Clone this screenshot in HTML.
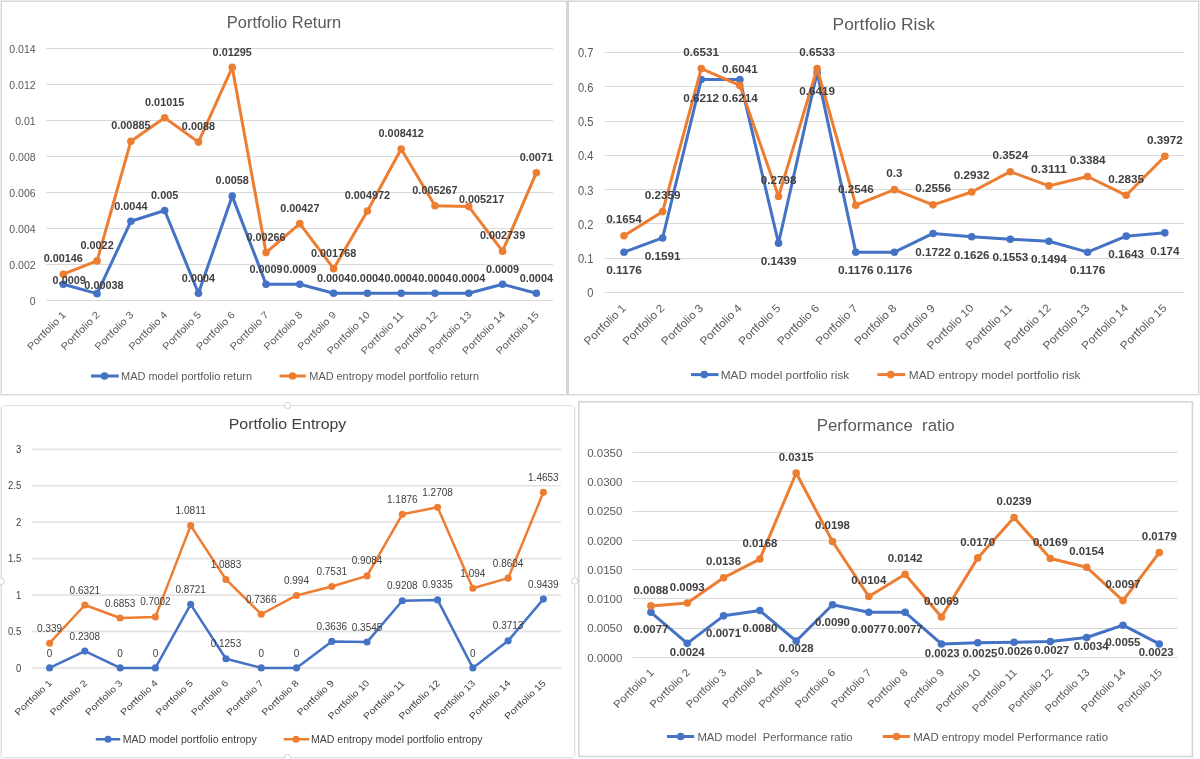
<!DOCTYPE html><html><head><meta charset="utf-8"><style>html,body{margin:0;padding:0;background:#fff;width:1200px;height:759px;overflow:hidden}svg{display:block;will-change:transform}text{font-family:"Liberation Sans",sans-serif}</style></head><body>
<svg width="1200" height="759" viewBox="0 0 1200 759">
<rect width="1200" height="759" fill="#FFFFFF"/>
<rect x="0" y="0" width="1200" height="1" fill="#E8E8E8"/>
<rect x="0" y="0" width="1" height="395" fill="#EDEDED"/>
<rect x="1199" y="0" width="1" height="395" fill="#EFEFEF"/>
<rect x="1" y="1" width="1198" height="1" fill="#D9D9D9"/>
<rect x="1" y="1" width="1" height="394" fill="#D9D9D9"/>
<rect x="566" y="1" width="3" height="394" fill="#D6D6D6"/>
<rect x="1" y="394" width="1198" height="1" fill="#D6D6D6"/>
<rect x="0" y="395" width="1199" height="1" fill="#F2F2F2"/>
<rect x="1198" y="1" width="1" height="394" fill="#D6D6D6"/>
<rect x="0" y="406" width="1" height="353" fill="#EFEFEF"/>
<rect x="0" y="758" width="575" height="1" fill="#F2F2F2"/>
<path d="M1.5 756.5 V408 L4 405.5 H572 L574.5 408 V755 L572.5 757.5 H3.5 Z" fill="none" stroke="#E0E0E0" stroke-width="1"/>
<rect x="575" y="408" width="1" height="348" fill="#F4F4F4"/>
<circle cx="287.5" cy="405.5" r="3.2" fill="#FFFFFF" stroke="#D2D2D2" stroke-width="1"/>
<circle cx="1" cy="581.3" r="3.2" fill="#FFFFFF" stroke="#D2D2D2" stroke-width="1"/>
<circle cx="574.5" cy="581" r="3.2" fill="#FFFFFF" stroke="#D2D2D2" stroke-width="1"/>
<circle cx="287.5" cy="757.5" r="3.2" fill="#FFFFFF" stroke="#D2D2D2" stroke-width="1"/>
<rect x="578.8" y="401.8" width="613.6" height="354.7" fill="none" stroke="#D4D4D4" stroke-width="1.5"/>
<line x1="46.41" y1="300.5" x2="553.25" y2="300.5" stroke="#D9D9D9" stroke-width="1"/>
<text x="35.6" y="305.1" font-size="10.5" fill="#595959" text-anchor="end" font-weight="normal">0</text>
<line x1="46.41" y1="264.5" x2="553.25" y2="264.5" stroke="#D9D9D9" stroke-width="1"/>
<text x="35.6" y="269.1" font-size="10.5" fill="#595959" text-anchor="end" font-weight="normal">0.002</text>
<line x1="46.41" y1="228.5" x2="553.25" y2="228.5" stroke="#D9D9D9" stroke-width="1"/>
<text x="35.6" y="233.1" font-size="10.5" fill="#595959" text-anchor="end" font-weight="normal">0.004</text>
<line x1="46.41" y1="192.5" x2="553.25" y2="192.5" stroke="#D9D9D9" stroke-width="1"/>
<text x="35.6" y="197.1" font-size="10.5" fill="#595959" text-anchor="end" font-weight="normal">0.006</text>
<line x1="46.41" y1="156.5" x2="553.25" y2="156.5" stroke="#D9D9D9" stroke-width="1"/>
<text x="35.6" y="161.1" font-size="10.5" fill="#595959" text-anchor="end" font-weight="normal">0.008</text>
<line x1="46.41" y1="120.5" x2="553.25" y2="120.5" stroke="#D9D9D9" stroke-width="1"/>
<text x="35.6" y="125.1" font-size="10.5" fill="#595959" text-anchor="end" font-weight="normal">0.01</text>
<line x1="46.41" y1="84.5" x2="553.25" y2="84.5" stroke="#D9D9D9" stroke-width="1"/>
<text x="35.6" y="89.1" font-size="10.5" fill="#595959" text-anchor="end" font-weight="normal">0.012</text>
<line x1="46.41" y1="48.5" x2="553.25" y2="48.5" stroke="#D9D9D9" stroke-width="1"/>
<text x="35.6" y="53.1" font-size="10.5" fill="#595959" text-anchor="end" font-weight="normal">0.014</text>
<text transform="translate(66.6 315.5) scale(1 1) rotate(-45)" x="0" y="0" font-size="10" fill="#595959" text-anchor="end" textLength="50" lengthAdjust="spacingAndGlyphs">Portfolio 1</text>
<text transform="translate(100.39 315.5) scale(1 1) rotate(-45)" x="0" y="0" font-size="10" fill="#595959" text-anchor="end" textLength="50" lengthAdjust="spacingAndGlyphs">Portfolio 2</text>
<text transform="translate(134.18 315.5) scale(1 1) rotate(-45)" x="0" y="0" font-size="10" fill="#595959" text-anchor="end" textLength="50" lengthAdjust="spacingAndGlyphs">Portfolio 3</text>
<text transform="translate(167.97 315.5) scale(1 1) rotate(-45)" x="0" y="0" font-size="10" fill="#595959" text-anchor="end" textLength="50" lengthAdjust="spacingAndGlyphs">Portfolio 4</text>
<text transform="translate(201.76 315.5) scale(1 1) rotate(-45)" x="0" y="0" font-size="10" fill="#595959" text-anchor="end" textLength="50" lengthAdjust="spacingAndGlyphs">Portfolio 5</text>
<text transform="translate(235.55 315.5) scale(1 1) rotate(-45)" x="0" y="0" font-size="10" fill="#595959" text-anchor="end" textLength="50" lengthAdjust="spacingAndGlyphs">Portfolio 6</text>
<text transform="translate(269.34 315.5) scale(1 1) rotate(-45)" x="0" y="0" font-size="10" fill="#595959" text-anchor="end" textLength="50" lengthAdjust="spacingAndGlyphs">Portfolio 7</text>
<text transform="translate(303.13 315.5) scale(1 1) rotate(-45)" x="0" y="0" font-size="10" fill="#595959" text-anchor="end" textLength="50" lengthAdjust="spacingAndGlyphs">Portfolio 8</text>
<text transform="translate(336.92 315.5) scale(1 1) rotate(-45)" x="0" y="0" font-size="10" fill="#595959" text-anchor="end" textLength="50" lengthAdjust="spacingAndGlyphs">Portfolio 9</text>
<text transform="translate(370.71 315.5) scale(1 1) rotate(-45)" x="0" y="0" font-size="10" fill="#595959" text-anchor="end" textLength="56" lengthAdjust="spacingAndGlyphs">Portfolio 10</text>
<text transform="translate(404.5 315.5) scale(1 1) rotate(-45)" x="0" y="0" font-size="10" fill="#595959" text-anchor="end" textLength="56" lengthAdjust="spacingAndGlyphs">Portfolio 11</text>
<text transform="translate(438.29 315.5) scale(1 1) rotate(-45)" x="0" y="0" font-size="10" fill="#595959" text-anchor="end" textLength="56" lengthAdjust="spacingAndGlyphs">Portfolio 12</text>
<text transform="translate(472.08 315.5) scale(1 1) rotate(-45)" x="0" y="0" font-size="10" fill="#595959" text-anchor="end" textLength="56" lengthAdjust="spacingAndGlyphs">Portfolio 13</text>
<text transform="translate(505.87 315.5) scale(1 1) rotate(-45)" x="0" y="0" font-size="10" fill="#595959" text-anchor="end" textLength="56" lengthAdjust="spacingAndGlyphs">Portfolio 14</text>
<text transform="translate(539.66 315.5) scale(1 1) rotate(-45)" x="0" y="0" font-size="10" fill="#595959" text-anchor="end" textLength="56" lengthAdjust="spacingAndGlyphs">Portfolio 15</text>
<polyline points="63.3,284.3 97.09,293.66 130.88,221.3 164.67,210.5 198.46,293.3 232.25,196.1 266.04,284.3 299.83,284.3 333.62,293.3 367.41,293.3 401.2,293.3 434.99,293.3 468.78,293.3 502.57,284.3 536.36,293.3" fill="none" stroke="#4472C4" stroke-width="3" stroke-linejoin="round" stroke-linecap="round"/>
<circle cx="63.3" cy="284.3" r="3.8" fill="#4472C4"/>
<circle cx="97.09" cy="293.66" r="3.8" fill="#4472C4"/>
<circle cx="130.88" cy="221.3" r="3.8" fill="#4472C4"/>
<circle cx="164.67" cy="210.5" r="3.8" fill="#4472C4"/>
<circle cx="198.46" cy="293.3" r="3.8" fill="#4472C4"/>
<circle cx="232.25" cy="196.1" r="3.8" fill="#4472C4"/>
<circle cx="266.04" cy="284.3" r="3.8" fill="#4472C4"/>
<circle cx="299.83" cy="284.3" r="3.8" fill="#4472C4"/>
<circle cx="333.62" cy="293.3" r="3.8" fill="#4472C4"/>
<circle cx="367.41" cy="293.3" r="3.8" fill="#4472C4"/>
<circle cx="401.2" cy="293.3" r="3.8" fill="#4472C4"/>
<circle cx="434.99" cy="293.3" r="3.8" fill="#4472C4"/>
<circle cx="468.78" cy="293.3" r="3.8" fill="#4472C4"/>
<circle cx="502.57" cy="284.3" r="3.8" fill="#4472C4"/>
<circle cx="536.36" cy="293.3" r="3.8" fill="#4472C4"/>
<polyline points="63.3,274.22 97.09,260.9 130.88,141.2 164.67,117.8 198.46,142.1 232.25,67.4 266.04,252.62 299.83,223.64 333.62,268.68 367.41,211 401.2,149.08 434.99,205.69 468.78,206.59 502.57,251.2 536.36,172.7" fill="none" stroke="#ED7D31" stroke-width="3" stroke-linejoin="round" stroke-linecap="round"/>
<circle cx="63.3" cy="274.22" r="3.8" fill="#ED7D31"/>
<circle cx="97.09" cy="260.9" r="3.8" fill="#ED7D31"/>
<circle cx="130.88" cy="141.2" r="3.8" fill="#ED7D31"/>
<circle cx="164.67" cy="117.8" r="3.8" fill="#ED7D31"/>
<circle cx="198.46" cy="142.1" r="3.8" fill="#ED7D31"/>
<circle cx="232.25" cy="67.4" r="3.8" fill="#ED7D31"/>
<circle cx="266.04" cy="252.62" r="3.8" fill="#ED7D31"/>
<circle cx="299.83" cy="223.64" r="3.8" fill="#ED7D31"/>
<circle cx="333.62" cy="268.68" r="3.8" fill="#ED7D31"/>
<circle cx="367.41" cy="211" r="3.8" fill="#ED7D31"/>
<circle cx="401.2" cy="149.08" r="3.8" fill="#ED7D31"/>
<circle cx="434.99" cy="205.69" r="3.8" fill="#ED7D31"/>
<circle cx="468.78" cy="206.59" r="3.8" fill="#ED7D31"/>
<circle cx="502.57" cy="251.2" r="3.8" fill="#ED7D31"/>
<circle cx="536.36" cy="172.7" r="3.8" fill="#ED7D31"/>
<text x="69.2" y="283.5" font-size="10.2" fill="#404040" text-anchor="middle" font-weight="bold" textLength="33.22" lengthAdjust="spacingAndGlyphs">0.0009</text>
<text x="103.99" y="288.66" font-size="10.2" fill="#404040" text-anchor="middle" font-weight="bold" textLength="39.26" lengthAdjust="spacingAndGlyphs">0.00038</text>
<text x="130.88" y="209.5" font-size="10.2" fill="#404040" text-anchor="middle" font-weight="bold" textLength="33.22" lengthAdjust="spacingAndGlyphs">0.0044</text>
<text x="164.67" y="198.7" font-size="10.2" fill="#404040" text-anchor="middle" font-weight="bold" textLength="27.18" lengthAdjust="spacingAndGlyphs">0.005</text>
<text x="198.46" y="281.5" font-size="10.2" fill="#404040" text-anchor="middle" font-weight="bold" textLength="33.22" lengthAdjust="spacingAndGlyphs">0.0004</text>
<text x="232.25" y="184.3" font-size="10.2" fill="#404040" text-anchor="middle" font-weight="bold" textLength="33.22" lengthAdjust="spacingAndGlyphs">0.0058</text>
<text x="266.04" y="272.5" font-size="10.2" fill="#404040" text-anchor="middle" font-weight="bold" textLength="33.22" lengthAdjust="spacingAndGlyphs">0.0009</text>
<text x="299.83" y="272.5" font-size="10.2" fill="#404040" text-anchor="middle" font-weight="bold" textLength="33.22" lengthAdjust="spacingAndGlyphs">0.0009</text>
<text x="333.62" y="281.5" font-size="10.2" fill="#404040" text-anchor="middle" font-weight="bold" textLength="33.22" lengthAdjust="spacingAndGlyphs">0.0004</text>
<text x="367.41" y="281.5" font-size="10.2" fill="#404040" text-anchor="middle" font-weight="bold" textLength="33.22" lengthAdjust="spacingAndGlyphs">0.0004</text>
<text x="401.2" y="281.5" font-size="10.2" fill="#404040" text-anchor="middle" font-weight="bold" textLength="33.22" lengthAdjust="spacingAndGlyphs">0.0004</text>
<text x="434.99" y="281.5" font-size="10.2" fill="#404040" text-anchor="middle" font-weight="bold" textLength="33.22" lengthAdjust="spacingAndGlyphs">0.0004</text>
<text x="468.78" y="281.5" font-size="10.2" fill="#404040" text-anchor="middle" font-weight="bold" textLength="33.22" lengthAdjust="spacingAndGlyphs">0.0004</text>
<text x="502.57" y="272.5" font-size="10.2" fill="#404040" text-anchor="middle" font-weight="bold" textLength="33.22" lengthAdjust="spacingAndGlyphs">0.0009</text>
<text x="536.36" y="281.5" font-size="10.2" fill="#404040" text-anchor="middle" font-weight="bold" textLength="33.22" lengthAdjust="spacingAndGlyphs">0.0004</text>
<text x="63.3" y="262.42" font-size="10.2" fill="#404040" text-anchor="middle" font-weight="bold" textLength="39.26" lengthAdjust="spacingAndGlyphs">0.00146</text>
<text x="97.09" y="249.1" font-size="10.2" fill="#404040" text-anchor="middle" font-weight="bold" textLength="33.22" lengthAdjust="spacingAndGlyphs">0.0022</text>
<text x="130.88" y="129.4" font-size="10.2" fill="#404040" text-anchor="middle" font-weight="bold" textLength="39.26" lengthAdjust="spacingAndGlyphs">0.00885</text>
<text x="164.67" y="106" font-size="10.2" fill="#404040" text-anchor="middle" font-weight="bold" textLength="39.26" lengthAdjust="spacingAndGlyphs">0.01015</text>
<text x="198.46" y="130.3" font-size="10.2" fill="#404040" text-anchor="middle" font-weight="bold" textLength="33.22" lengthAdjust="spacingAndGlyphs">0.0088</text>
<text x="232.25" y="55.6" font-size="10.2" fill="#404040" text-anchor="middle" font-weight="bold" textLength="39.26" lengthAdjust="spacingAndGlyphs">0.01295</text>
<text x="266.04" y="240.82" font-size="10.2" fill="#404040" text-anchor="middle" font-weight="bold" textLength="39.26" lengthAdjust="spacingAndGlyphs">0.00266</text>
<text x="299.83" y="211.84" font-size="10.2" fill="#404040" text-anchor="middle" font-weight="bold" textLength="39.26" lengthAdjust="spacingAndGlyphs">0.00427</text>
<text x="333.62" y="256.88" font-size="10.2" fill="#404040" text-anchor="middle" font-weight="bold" textLength="45.3" lengthAdjust="spacingAndGlyphs">0.001768</text>
<text x="367.41" y="199.2" font-size="10.2" fill="#404040" text-anchor="middle" font-weight="bold" textLength="45.3" lengthAdjust="spacingAndGlyphs">0.004972</text>
<text x="401.2" y="137.28" font-size="10.2" fill="#404040" text-anchor="middle" font-weight="bold" textLength="45.3" lengthAdjust="spacingAndGlyphs">0.008412</text>
<text x="434.99" y="193.89" font-size="10.2" fill="#404040" text-anchor="middle" font-weight="bold" textLength="45.3" lengthAdjust="spacingAndGlyphs">0.005267</text>
<text x="481.58" y="202.59" font-size="10.2" fill="#404040" text-anchor="middle" font-weight="bold" textLength="45.3" lengthAdjust="spacingAndGlyphs">0.005217</text>
<text x="502.57" y="239.4" font-size="10.2" fill="#404040" text-anchor="middle" font-weight="bold" textLength="45.3" lengthAdjust="spacingAndGlyphs">0.002739</text>
<text x="536.36" y="160.9" font-size="10.2" fill="#404040" text-anchor="middle" font-weight="bold" textLength="33.22" lengthAdjust="spacingAndGlyphs">0.0071</text>
<text x="284" y="28.1" font-size="16" fill="#595959" text-anchor="middle" font-weight="normal" textLength="114.4" lengthAdjust="spacingAndGlyphs">Portfolio Return</text>
<line x1="91" y1="376" x2="118.7" y2="376" stroke="#4472C4" stroke-width="3"/>
<circle cx="104.5" cy="376" r="3.8" fill="#4472C4"/>
<text x="121" y="380.3" font-size="11" fill="#595959" text-anchor="start" font-weight="normal" textLength="131" lengthAdjust="spacingAndGlyphs">MAD model portfolio return</text>
<line x1="279.5" y1="376" x2="305.8" y2="376" stroke="#ED7D31" stroke-width="3"/>
<circle cx="292.6" cy="376" r="3.8" fill="#ED7D31"/>
<text x="309.3" y="380.3" font-size="11" fill="#595959" text-anchor="start" font-weight="normal" textLength="169.7" lengthAdjust="spacingAndGlyphs">MAD entropy model portfolio return</text>
<line x1="604.68" y1="292.5" x2="1184.13" y2="292.5" stroke="#D9D9D9" stroke-width="1"/>
<text x="593.4" y="297.4" font-size="12" fill="#595959" text-anchor="end" font-weight="normal" textLength="6.2" lengthAdjust="spacingAndGlyphs">0</text>
<line x1="604.68" y1="258.5" x2="1184.13" y2="258.5" stroke="#D9D9D9" stroke-width="1"/>
<text x="593.4" y="263.11" font-size="12" fill="#595959" text-anchor="end" font-weight="normal" textLength="15.5" lengthAdjust="spacingAndGlyphs">0.1</text>
<line x1="604.68" y1="223.5" x2="1184.13" y2="223.5" stroke="#D9D9D9" stroke-width="1"/>
<text x="593.4" y="228.83" font-size="12" fill="#595959" text-anchor="end" font-weight="normal" textLength="15.5" lengthAdjust="spacingAndGlyphs">0.2</text>
<line x1="604.68" y1="189.5" x2="1184.13" y2="189.5" stroke="#D9D9D9" stroke-width="1"/>
<text x="593.4" y="194.54" font-size="12" fill="#595959" text-anchor="end" font-weight="normal" textLength="15.5" lengthAdjust="spacingAndGlyphs">0.3</text>
<line x1="604.68" y1="155.5" x2="1184.13" y2="155.5" stroke="#D9D9D9" stroke-width="1"/>
<text x="593.4" y="160.26" font-size="12" fill="#595959" text-anchor="end" font-weight="normal" textLength="15.5" lengthAdjust="spacingAndGlyphs">0.4</text>
<line x1="604.68" y1="121.5" x2="1184.13" y2="121.5" stroke="#D9D9D9" stroke-width="1"/>
<text x="593.4" y="125.97" font-size="12" fill="#595959" text-anchor="end" font-weight="normal" textLength="15.5" lengthAdjust="spacingAndGlyphs">0.5</text>
<line x1="604.68" y1="86.5" x2="1184.13" y2="86.5" stroke="#D9D9D9" stroke-width="1"/>
<text x="593.4" y="91.69" font-size="12" fill="#595959" text-anchor="end" font-weight="normal" textLength="15.5" lengthAdjust="spacingAndGlyphs">0.6</text>
<line x1="604.68" y1="52.5" x2="1184.13" y2="52.5" stroke="#D9D9D9" stroke-width="1"/>
<text x="593.4" y="57.4" font-size="12" fill="#595959" text-anchor="end" font-weight="normal" textLength="15.5" lengthAdjust="spacingAndGlyphs">0.7</text>
<text transform="translate(626.7 308.8) scale(1.03 1) rotate(-45)" x="0" y="0" font-size="11" fill="#595959" text-anchor="end" textLength="52.43" lengthAdjust="spacingAndGlyphs">Portfolio 1</text>
<text transform="translate(665.33 308.8) scale(1.03 1) rotate(-45)" x="0" y="0" font-size="11" fill="#595959" text-anchor="end" textLength="52.43" lengthAdjust="spacingAndGlyphs">Portfolio 2</text>
<text transform="translate(703.96 308.8) scale(1.03 1) rotate(-45)" x="0" y="0" font-size="11" fill="#595959" text-anchor="end" textLength="52.43" lengthAdjust="spacingAndGlyphs">Portfolio 3</text>
<text transform="translate(742.59 308.8) scale(1.03 1) rotate(-45)" x="0" y="0" font-size="11" fill="#595959" text-anchor="end" textLength="52.43" lengthAdjust="spacingAndGlyphs">Portfolio 4</text>
<text transform="translate(781.22 308.8) scale(1.03 1) rotate(-45)" x="0" y="0" font-size="11" fill="#595959" text-anchor="end" textLength="52.43" lengthAdjust="spacingAndGlyphs">Portfolio 5</text>
<text transform="translate(819.85 308.8) scale(1.03 1) rotate(-45)" x="0" y="0" font-size="11" fill="#595959" text-anchor="end" textLength="52.43" lengthAdjust="spacingAndGlyphs">Portfolio 6</text>
<text transform="translate(858.48 308.8) scale(1.03 1) rotate(-45)" x="0" y="0" font-size="11" fill="#595959" text-anchor="end" textLength="52.43" lengthAdjust="spacingAndGlyphs">Portfolio 7</text>
<text transform="translate(897.11 308.8) scale(1.03 1) rotate(-45)" x="0" y="0" font-size="11" fill="#595959" text-anchor="end" textLength="52.43" lengthAdjust="spacingAndGlyphs">Portfolio 8</text>
<text transform="translate(935.74 308.8) scale(1.03 1) rotate(-45)" x="0" y="0" font-size="11" fill="#595959" text-anchor="end" textLength="52.43" lengthAdjust="spacingAndGlyphs">Portfolio 9</text>
<text transform="translate(974.37 308.8) scale(1.03 1) rotate(-45)" x="0" y="0" font-size="11" fill="#595959" text-anchor="end" textLength="58.74" lengthAdjust="spacingAndGlyphs">Portfolio 10</text>
<text transform="translate(1013 308.8) scale(1.03 1) rotate(-45)" x="0" y="0" font-size="11" fill="#595959" text-anchor="end" textLength="58.74" lengthAdjust="spacingAndGlyphs">Portfolio 11</text>
<text transform="translate(1051.63 308.8) scale(1.03 1) rotate(-45)" x="0" y="0" font-size="11" fill="#595959" text-anchor="end" textLength="58.74" lengthAdjust="spacingAndGlyphs">Portfolio 12</text>
<text transform="translate(1090.26 308.8) scale(1.03 1) rotate(-45)" x="0" y="0" font-size="11" fill="#595959" text-anchor="end" textLength="58.74" lengthAdjust="spacingAndGlyphs">Portfolio 13</text>
<text transform="translate(1128.89 308.8) scale(1.03 1) rotate(-45)" x="0" y="0" font-size="11" fill="#595959" text-anchor="end" textLength="58.74" lengthAdjust="spacingAndGlyphs">Portfolio 14</text>
<text transform="translate(1167.52 308.8) scale(1.03 1) rotate(-45)" x="0" y="0" font-size="11" fill="#595959" text-anchor="end" textLength="58.74" lengthAdjust="spacingAndGlyphs">Portfolio 15</text>
<polyline points="624,252.18 662.63,237.95 701.26,79.52 739.89,79.45 778.52,243.16 817.15,72.42 855.78,252.18 894.41,252.18 933.04,233.46 971.67,236.75 1010.3,239.25 1048.93,241.28 1087.56,252.18 1126.19,236.17 1164.82,232.84" fill="none" stroke="#4472C4" stroke-width="3" stroke-linejoin="round" stroke-linecap="round"/>
<circle cx="624" cy="252.18" r="3.8" fill="#4472C4"/>
<circle cx="662.63" cy="237.95" r="3.8" fill="#4472C4"/>
<circle cx="701.26" cy="79.52" r="3.8" fill="#4472C4"/>
<circle cx="739.89" cy="79.45" r="3.8" fill="#4472C4"/>
<circle cx="778.52" cy="243.16" r="3.8" fill="#4472C4"/>
<circle cx="817.15" cy="72.42" r="3.8" fill="#4472C4"/>
<circle cx="855.78" cy="252.18" r="3.8" fill="#4472C4"/>
<circle cx="894.41" cy="252.18" r="3.8" fill="#4472C4"/>
<circle cx="933.04" cy="233.46" r="3.8" fill="#4472C4"/>
<circle cx="971.67" cy="236.75" r="3.8" fill="#4472C4"/>
<circle cx="1010.3" cy="239.25" r="3.8" fill="#4472C4"/>
<circle cx="1048.93" cy="241.28" r="3.8" fill="#4472C4"/>
<circle cx="1087.56" cy="252.18" r="3.8" fill="#4472C4"/>
<circle cx="1126.19" cy="236.17" r="3.8" fill="#4472C4"/>
<circle cx="1164.82" cy="232.84" r="3.8" fill="#4472C4"/>
<polyline points="624,235.79 662.63,211.62 701.26,68.58 739.89,85.38 778.52,196.57 817.15,68.51 855.78,205.21 894.41,189.64 933.04,204.87 971.67,191.97 1010.3,171.68 1048.93,185.84 1087.56,176.48 1126.19,195.3 1164.82,156.32" fill="none" stroke="#ED7D31" stroke-width="3" stroke-linejoin="round" stroke-linecap="round"/>
<circle cx="624" cy="235.79" r="3.8" fill="#ED7D31"/>
<circle cx="662.63" cy="211.62" r="3.8" fill="#ED7D31"/>
<circle cx="701.26" cy="68.58" r="3.8" fill="#ED7D31"/>
<circle cx="739.89" cy="85.38" r="3.8" fill="#ED7D31"/>
<circle cx="778.52" cy="196.57" r="3.8" fill="#ED7D31"/>
<circle cx="817.15" cy="68.51" r="3.8" fill="#ED7D31"/>
<circle cx="855.78" cy="205.21" r="3.8" fill="#ED7D31"/>
<circle cx="894.41" cy="189.64" r="3.8" fill="#ED7D31"/>
<circle cx="933.04" cy="204.87" r="3.8" fill="#ED7D31"/>
<circle cx="971.67" cy="191.97" r="3.8" fill="#ED7D31"/>
<circle cx="1010.3" cy="171.68" r="3.8" fill="#ED7D31"/>
<circle cx="1048.93" cy="185.84" r="3.8" fill="#ED7D31"/>
<circle cx="1087.56" cy="176.48" r="3.8" fill="#ED7D31"/>
<circle cx="1126.19" cy="195.3" r="3.8" fill="#ED7D31"/>
<circle cx="1164.82" cy="156.32" r="3.8" fill="#ED7D31"/>
<text x="624" y="274.38" font-size="11.4" fill="#404040" text-anchor="middle" font-weight="bold" textLength="35.75" lengthAdjust="spacingAndGlyphs">0.1176</text>
<text x="662.63" y="260.15" font-size="11.4" fill="#404040" text-anchor="middle" font-weight="bold" textLength="35.75" lengthAdjust="spacingAndGlyphs">0.1591</text>
<text x="701.26" y="101.72" font-size="11.4" fill="#404040" text-anchor="middle" font-weight="bold" textLength="35.75" lengthAdjust="spacingAndGlyphs">0.6212</text>
<text x="739.89" y="101.65" font-size="11.4" fill="#404040" text-anchor="middle" font-weight="bold" textLength="35.75" lengthAdjust="spacingAndGlyphs">0.6214</text>
<text x="778.52" y="265.36" font-size="11.4" fill="#404040" text-anchor="middle" font-weight="bold" textLength="35.75" lengthAdjust="spacingAndGlyphs">0.1439</text>
<text x="817.15" y="94.62" font-size="11.4" fill="#404040" text-anchor="middle" font-weight="bold" textLength="35.75" lengthAdjust="spacingAndGlyphs">0.6419</text>
<text x="855.78" y="274.38" font-size="11.4" fill="#404040" text-anchor="middle" font-weight="bold" textLength="35.75" lengthAdjust="spacingAndGlyphs">0.1176</text>
<text x="894.41" y="274.38" font-size="11.4" fill="#404040" text-anchor="middle" font-weight="bold" textLength="35.75" lengthAdjust="spacingAndGlyphs">0.1176</text>
<text x="933.04" y="255.66" font-size="11.4" fill="#404040" text-anchor="middle" font-weight="bold" textLength="35.75" lengthAdjust="spacingAndGlyphs">0.1722</text>
<text x="971.67" y="258.95" font-size="11.4" fill="#404040" text-anchor="middle" font-weight="bold" textLength="35.75" lengthAdjust="spacingAndGlyphs">0.1626</text>
<text x="1010.3" y="261.45" font-size="11.4" fill="#404040" text-anchor="middle" font-weight="bold" textLength="35.75" lengthAdjust="spacingAndGlyphs">0.1553</text>
<text x="1048.93" y="263.48" font-size="11.4" fill="#404040" text-anchor="middle" font-weight="bold" textLength="35.75" lengthAdjust="spacingAndGlyphs">0.1494</text>
<text x="1087.56" y="274.38" font-size="11.4" fill="#404040" text-anchor="middle" font-weight="bold" textLength="35.75" lengthAdjust="spacingAndGlyphs">0.1176</text>
<text x="1126.19" y="258.37" font-size="11.4" fill="#404040" text-anchor="middle" font-weight="bold" textLength="35.75" lengthAdjust="spacingAndGlyphs">0.1643</text>
<text x="1164.82" y="255.04" font-size="11.4" fill="#404040" text-anchor="middle" font-weight="bold" textLength="29.25" lengthAdjust="spacingAndGlyphs">0.174</text>
<text x="624" y="223.19" font-size="11.4" fill="#404040" text-anchor="middle" font-weight="bold" textLength="35.75" lengthAdjust="spacingAndGlyphs">0.1654</text>
<text x="662.63" y="199.02" font-size="11.4" fill="#404040" text-anchor="middle" font-weight="bold" textLength="35.75" lengthAdjust="spacingAndGlyphs">0.2359</text>
<text x="701.26" y="55.98" font-size="11.4" fill="#404040" text-anchor="middle" font-weight="bold" textLength="35.75" lengthAdjust="spacingAndGlyphs">0.6531</text>
<text x="739.89" y="72.78" font-size="11.4" fill="#404040" text-anchor="middle" font-weight="bold" textLength="35.75" lengthAdjust="spacingAndGlyphs">0.6041</text>
<text x="778.52" y="183.97" font-size="11.4" fill="#404040" text-anchor="middle" font-weight="bold" textLength="35.75" lengthAdjust="spacingAndGlyphs">0.2798</text>
<text x="817.15" y="55.91" font-size="11.4" fill="#404040" text-anchor="middle" font-weight="bold" textLength="35.75" lengthAdjust="spacingAndGlyphs">0.6533</text>
<text x="855.78" y="192.61" font-size="11.4" fill="#404040" text-anchor="middle" font-weight="bold" textLength="35.75" lengthAdjust="spacingAndGlyphs">0.2546</text>
<text x="894.41" y="177.04" font-size="11.4" fill="#404040" text-anchor="middle" font-weight="bold" textLength="16.25" lengthAdjust="spacingAndGlyphs">0.3</text>
<text x="933.04" y="192.27" font-size="11.4" fill="#404040" text-anchor="middle" font-weight="bold" textLength="35.75" lengthAdjust="spacingAndGlyphs">0.2556</text>
<text x="971.67" y="179.37" font-size="11.4" fill="#404040" text-anchor="middle" font-weight="bold" textLength="35.75" lengthAdjust="spacingAndGlyphs">0.2932</text>
<text x="1010.3" y="159.08" font-size="11.4" fill="#404040" text-anchor="middle" font-weight="bold" textLength="35.75" lengthAdjust="spacingAndGlyphs">0.3524</text>
<text x="1048.93" y="173.24" font-size="11.4" fill="#404040" text-anchor="middle" font-weight="bold" textLength="35.75" lengthAdjust="spacingAndGlyphs">0.3111</text>
<text x="1087.56" y="163.88" font-size="11.4" fill="#404040" text-anchor="middle" font-weight="bold" textLength="35.75" lengthAdjust="spacingAndGlyphs">0.3384</text>
<text x="1126.19" y="182.7" font-size="11.4" fill="#404040" text-anchor="middle" font-weight="bold" textLength="35.75" lengthAdjust="spacingAndGlyphs">0.2835</text>
<text x="1164.82" y="143.72" font-size="11.4" fill="#404040" text-anchor="middle" font-weight="bold" textLength="35.75" lengthAdjust="spacingAndGlyphs">0.3972</text>
<text x="883.7" y="30.1" font-size="16" fill="#595959" text-anchor="middle" font-weight="normal" textLength="102.3" lengthAdjust="spacingAndGlyphs">Portfolio Risk</text>
<line x1="691" y1="374.6" x2="718.5" y2="374.6" stroke="#4472C4" stroke-width="3"/>
<circle cx="704.2" cy="374.6" r="3.8" fill="#4472C4"/>
<text x="720.7" y="378.9" font-size="11.5" fill="#595959" text-anchor="start" font-weight="normal" textLength="128.5" lengthAdjust="spacingAndGlyphs">MAD model portfolio risk</text>
<line x1="877.5" y1="374.6" x2="905.3" y2="374.6" stroke="#ED7D31" stroke-width="3"/>
<circle cx="890.7" cy="374.6" r="3.8" fill="#ED7D31"/>
<text x="908.8" y="378.9" font-size="11.5" fill="#595959" text-anchor="start" font-weight="normal" textLength="171.7" lengthAdjust="spacingAndGlyphs">MAD entropy model portfolio risk</text>
<line x1="31.96" y1="667.9" x2="561.01" y2="667.9" stroke="#E3E3E3" stroke-width="1.7"/>
<text x="21.3" y="671.5" font-size="10.3" fill="#404040" text-anchor="end" font-weight="normal" textLength="5.3" lengthAdjust="spacingAndGlyphs">0</text>
<line x1="31.96" y1="631.47" x2="561.01" y2="631.47" stroke="#E3E3E3" stroke-width="1.7"/>
<text x="21.3" y="635.07" font-size="10.3" fill="#404040" text-anchor="end" font-weight="normal" textLength="13.25" lengthAdjust="spacingAndGlyphs">0.5</text>
<line x1="31.96" y1="595.03" x2="561.01" y2="595.03" stroke="#E3E3E3" stroke-width="1.7"/>
<text x="21.3" y="598.63" font-size="10.3" fill="#404040" text-anchor="end" font-weight="normal" textLength="5.3" lengthAdjust="spacingAndGlyphs">1</text>
<line x1="31.96" y1="558.6" x2="561.01" y2="558.6" stroke="#E3E3E3" stroke-width="1.7"/>
<text x="21.3" y="562.2" font-size="10.3" fill="#404040" text-anchor="end" font-weight="normal" textLength="13.25" lengthAdjust="spacingAndGlyphs">1.5</text>
<line x1="31.96" y1="522.17" x2="561.01" y2="522.17" stroke="#E3E3E3" stroke-width="1.7"/>
<text x="21.3" y="525.77" font-size="10.3" fill="#404040" text-anchor="end" font-weight="normal" textLength="5.3" lengthAdjust="spacingAndGlyphs">2</text>
<line x1="31.96" y1="485.73" x2="561.01" y2="485.73" stroke="#E3E3E3" stroke-width="1.7"/>
<text x="21.3" y="489.33" font-size="10.3" fill="#404040" text-anchor="end" font-weight="normal" textLength="13.25" lengthAdjust="spacingAndGlyphs">2.5</text>
<line x1="31.96" y1="449.3" x2="561.01" y2="449.3" stroke="#E3E3E3" stroke-width="1.7"/>
<text x="21.3" y="452.9" font-size="10.3" fill="#404040" text-anchor="end" font-weight="normal" textLength="5.3" lengthAdjust="spacingAndGlyphs">3</text>
<text transform="translate(52.6 683.9) scale(1.06 1) rotate(-45)" x="0" y="0" font-size="9" fill="#404040" text-anchor="end" textLength="45.47" lengthAdjust="spacingAndGlyphs">Portfolio 1</text>
<text transform="translate(87.87 683.9) scale(1.06 1) rotate(-45)" x="0" y="0" font-size="9" fill="#404040" text-anchor="end" textLength="45.47" lengthAdjust="spacingAndGlyphs">Portfolio 2</text>
<text transform="translate(123.14 683.9) scale(1.06 1) rotate(-45)" x="0" y="0" font-size="9" fill="#404040" text-anchor="end" textLength="45.47" lengthAdjust="spacingAndGlyphs">Portfolio 3</text>
<text transform="translate(158.41 683.9) scale(1.06 1) rotate(-45)" x="0" y="0" font-size="9" fill="#404040" text-anchor="end" textLength="45.47" lengthAdjust="spacingAndGlyphs">Portfolio 4</text>
<text transform="translate(193.68 683.9) scale(1.06 1) rotate(-45)" x="0" y="0" font-size="9" fill="#404040" text-anchor="end" textLength="45.47" lengthAdjust="spacingAndGlyphs">Portfolio 5</text>
<text transform="translate(228.95 683.9) scale(1.06 1) rotate(-45)" x="0" y="0" font-size="9" fill="#404040" text-anchor="end" textLength="45.47" lengthAdjust="spacingAndGlyphs">Portfolio 6</text>
<text transform="translate(264.22 683.9) scale(1.06 1) rotate(-45)" x="0" y="0" font-size="9" fill="#404040" text-anchor="end" textLength="45.47" lengthAdjust="spacingAndGlyphs">Portfolio 7</text>
<text transform="translate(299.49 683.9) scale(1.06 1) rotate(-45)" x="0" y="0" font-size="9" fill="#404040" text-anchor="end" textLength="45.47" lengthAdjust="spacingAndGlyphs">Portfolio 8</text>
<text transform="translate(334.76 683.9) scale(1.06 1) rotate(-45)" x="0" y="0" font-size="9" fill="#404040" text-anchor="end" textLength="45.47" lengthAdjust="spacingAndGlyphs">Portfolio 9</text>
<text transform="translate(370.03 683.9) scale(1.06 1) rotate(-45)" x="0" y="0" font-size="9" fill="#404040" text-anchor="end" textLength="50.94" lengthAdjust="spacingAndGlyphs">Portfolio 10</text>
<text transform="translate(405.3 683.9) scale(1.06 1) rotate(-45)" x="0" y="0" font-size="9" fill="#404040" text-anchor="end" textLength="50.94" lengthAdjust="spacingAndGlyphs">Portfolio 11</text>
<text transform="translate(440.57 683.9) scale(1.06 1) rotate(-45)" x="0" y="0" font-size="9" fill="#404040" text-anchor="end" textLength="50.94" lengthAdjust="spacingAndGlyphs">Portfolio 12</text>
<text transform="translate(475.84 683.9) scale(1.06 1) rotate(-45)" x="0" y="0" font-size="9" fill="#404040" text-anchor="end" textLength="50.94" lengthAdjust="spacingAndGlyphs">Portfolio 13</text>
<text transform="translate(511.11 683.9) scale(1.06 1) rotate(-45)" x="0" y="0" font-size="9" fill="#404040" text-anchor="end" textLength="50.94" lengthAdjust="spacingAndGlyphs">Portfolio 14</text>
<text transform="translate(546.38 683.9) scale(1.06 1) rotate(-45)" x="0" y="0" font-size="9" fill="#404040" text-anchor="end" textLength="50.94" lengthAdjust="spacingAndGlyphs">Portfolio 15</text>
<polyline points="49.6,667.9 84.87,651.08 120.14,667.9 155.41,667.9 190.68,604.35 225.95,658.77 261.22,667.9 296.49,667.9 331.76,641.41 367.03,642.07 402.3,600.8 437.57,599.88 472.84,667.9 508.11,640.84 543.38,599.12" fill="none" stroke="#4472C4" stroke-width="2.5" stroke-linejoin="round" stroke-linecap="round"/>
<circle cx="49.6" cy="667.9" r="3.55" fill="#4472C4"/>
<circle cx="84.87" cy="651.08" r="3.55" fill="#4472C4"/>
<circle cx="120.14" cy="667.9" r="3.55" fill="#4472C4"/>
<circle cx="155.41" cy="667.9" r="3.55" fill="#4472C4"/>
<circle cx="190.68" cy="604.35" r="3.55" fill="#4472C4"/>
<circle cx="225.95" cy="658.77" r="3.55" fill="#4472C4"/>
<circle cx="261.22" cy="667.9" r="3.55" fill="#4472C4"/>
<circle cx="296.49" cy="667.9" r="3.55" fill="#4472C4"/>
<circle cx="331.76" cy="641.41" r="3.55" fill="#4472C4"/>
<circle cx="367.03" cy="642.07" r="3.55" fill="#4472C4"/>
<circle cx="402.3" cy="600.8" r="3.55" fill="#4472C4"/>
<circle cx="437.57" cy="599.88" r="3.55" fill="#4472C4"/>
<circle cx="472.84" cy="667.9" r="3.55" fill="#4472C4"/>
<circle cx="508.11" cy="640.84" r="3.55" fill="#4472C4"/>
<circle cx="543.38" cy="599.12" r="3.55" fill="#4472C4"/>
<polyline points="49.6,643.2 84.87,605.02 120.14,617.96 155.41,616.88 190.68,525.58 225.95,579.47 261.22,614.23 296.49,595.47 331.76,586.53 367.03,575.88 402.3,514.27 437.57,507.28 472.84,588.18 508.11,578.15 543.38,492.35" fill="none" stroke="#ED7D31" stroke-width="2.5" stroke-linejoin="round" stroke-linecap="round"/>
<circle cx="49.6" cy="643.2" r="3.55" fill="#ED7D31"/>
<circle cx="84.87" cy="605.02" r="3.55" fill="#ED7D31"/>
<circle cx="120.14" cy="617.96" r="3.55" fill="#ED7D31"/>
<circle cx="155.41" cy="616.88" r="3.55" fill="#ED7D31"/>
<circle cx="190.68" cy="525.58" r="3.55" fill="#ED7D31"/>
<circle cx="225.95" cy="579.47" r="3.55" fill="#ED7D31"/>
<circle cx="261.22" cy="614.23" r="3.55" fill="#ED7D31"/>
<circle cx="296.49" cy="595.47" r="3.55" fill="#ED7D31"/>
<circle cx="331.76" cy="586.53" r="3.55" fill="#ED7D31"/>
<circle cx="367.03" cy="575.88" r="3.55" fill="#ED7D31"/>
<circle cx="402.3" cy="514.27" r="3.55" fill="#ED7D31"/>
<circle cx="437.57" cy="507.28" r="3.55" fill="#ED7D31"/>
<circle cx="472.84" cy="588.18" r="3.55" fill="#ED7D31"/>
<circle cx="508.11" cy="578.15" r="3.55" fill="#ED7D31"/>
<circle cx="543.38" cy="492.35" r="3.55" fill="#ED7D31"/>
<text x="49.6" y="656.5" font-size="10" fill="#404040" text-anchor="middle" font-weight="normal" textLength="5.55" lengthAdjust="spacingAndGlyphs">0</text>
<text x="84.87" y="639.68" font-size="10" fill="#404040" text-anchor="middle" font-weight="normal" textLength="30.52" lengthAdjust="spacingAndGlyphs">0.2308</text>
<text x="120.14" y="656.5" font-size="10" fill="#404040" text-anchor="middle" font-weight="normal" textLength="5.55" lengthAdjust="spacingAndGlyphs">0</text>
<text x="155.41" y="656.5" font-size="10" fill="#404040" text-anchor="middle" font-weight="normal" textLength="5.55" lengthAdjust="spacingAndGlyphs">0</text>
<text x="190.68" y="592.95" font-size="10" fill="#404040" text-anchor="middle" font-weight="normal" textLength="30.52" lengthAdjust="spacingAndGlyphs">0.8721</text>
<text x="225.95" y="647.37" font-size="10" fill="#404040" text-anchor="middle" font-weight="normal" textLength="30.52" lengthAdjust="spacingAndGlyphs">0.1253</text>
<text x="261.22" y="656.5" font-size="10" fill="#404040" text-anchor="middle" font-weight="normal" textLength="5.55" lengthAdjust="spacingAndGlyphs">0</text>
<text x="296.49" y="656.5" font-size="10" fill="#404040" text-anchor="middle" font-weight="normal" textLength="5.55" lengthAdjust="spacingAndGlyphs">0</text>
<text x="331.76" y="630.01" font-size="10" fill="#404040" text-anchor="middle" font-weight="normal" textLength="30.52" lengthAdjust="spacingAndGlyphs">0.3636</text>
<text x="367.03" y="630.67" font-size="10" fill="#404040" text-anchor="middle" font-weight="normal" textLength="30.52" lengthAdjust="spacingAndGlyphs">0.3545</text>
<text x="402.3" y="589.4" font-size="10" fill="#404040" text-anchor="middle" font-weight="normal" textLength="30.52" lengthAdjust="spacingAndGlyphs">0.9208</text>
<text x="437.57" y="588.48" font-size="10" fill="#404040" text-anchor="middle" font-weight="normal" textLength="30.52" lengthAdjust="spacingAndGlyphs">0.9335</text>
<text x="472.84" y="656.5" font-size="10" fill="#404040" text-anchor="middle" font-weight="normal" textLength="5.55" lengthAdjust="spacingAndGlyphs">0</text>
<text x="508.11" y="629.44" font-size="10" fill="#404040" text-anchor="middle" font-weight="normal" textLength="30.52" lengthAdjust="spacingAndGlyphs">0.3713</text>
<text x="543.38" y="587.72" font-size="10" fill="#404040" text-anchor="middle" font-weight="normal" textLength="30.52" lengthAdjust="spacingAndGlyphs">0.9439</text>
<text x="49.6" y="631.8" font-size="10" fill="#404040" text-anchor="middle" font-weight="normal" textLength="24.97" lengthAdjust="spacingAndGlyphs">0.339</text>
<text x="84.87" y="593.62" font-size="10" fill="#404040" text-anchor="middle" font-weight="normal" textLength="30.52" lengthAdjust="spacingAndGlyphs">0.6321</text>
<text x="120.14" y="606.56" font-size="10" fill="#404040" text-anchor="middle" font-weight="normal" textLength="30.52" lengthAdjust="spacingAndGlyphs">0.6853</text>
<text x="155.41" y="605.48" font-size="10" fill="#404040" text-anchor="middle" font-weight="normal" textLength="30.52" lengthAdjust="spacingAndGlyphs">0.7002</text>
<text x="190.68" y="514.18" font-size="10" fill="#404040" text-anchor="middle" font-weight="normal" textLength="30.52" lengthAdjust="spacingAndGlyphs">1.0811</text>
<text x="225.95" y="568.07" font-size="10" fill="#404040" text-anchor="middle" font-weight="normal" textLength="30.52" lengthAdjust="spacingAndGlyphs">1.0883</text>
<text x="261.22" y="602.83" font-size="10" fill="#404040" text-anchor="middle" font-weight="normal" textLength="30.52" lengthAdjust="spacingAndGlyphs">0.7366</text>
<text x="296.49" y="584.07" font-size="10" fill="#404040" text-anchor="middle" font-weight="normal" textLength="24.97" lengthAdjust="spacingAndGlyphs">0.994</text>
<text x="331.76" y="575.13" font-size="10" fill="#404040" text-anchor="middle" font-weight="normal" textLength="30.52" lengthAdjust="spacingAndGlyphs">0.7531</text>
<text x="367.03" y="564.48" font-size="10" fill="#404040" text-anchor="middle" font-weight="normal" textLength="30.52" lengthAdjust="spacingAndGlyphs">0.9084</text>
<text x="402.3" y="502.87" font-size="10" fill="#404040" text-anchor="middle" font-weight="normal" textLength="30.52" lengthAdjust="spacingAndGlyphs">1.1876</text>
<text x="437.57" y="495.88" font-size="10" fill="#404040" text-anchor="middle" font-weight="normal" textLength="30.52" lengthAdjust="spacingAndGlyphs">1.2708</text>
<text x="472.84" y="576.78" font-size="10" fill="#404040" text-anchor="middle" font-weight="normal" textLength="24.97" lengthAdjust="spacingAndGlyphs">1.094</text>
<text x="508.11" y="566.75" font-size="10" fill="#404040" text-anchor="middle" font-weight="normal" textLength="30.52" lengthAdjust="spacingAndGlyphs">0.8604</text>
<text x="543.38" y="480.95" font-size="10" fill="#404040" text-anchor="middle" font-weight="normal" textLength="30.52" lengthAdjust="spacingAndGlyphs">1.4653</text>
<text x="287.5" y="429.4" font-size="15.5" fill="#404040" text-anchor="middle" font-weight="normal" textLength="117.6" lengthAdjust="spacingAndGlyphs">Portfolio Entropy</text>
<line x1="95.75" y1="739.25" x2="120.25" y2="739.25" stroke="#4472C4" stroke-width="2.5"/>
<circle cx="108" cy="739.25" r="3.55" fill="#4472C4"/>
<text x="122.7" y="743.25" font-size="10.5" fill="#404040" text-anchor="start" font-weight="normal" textLength="134.1" lengthAdjust="spacingAndGlyphs">MAD model portfolio entropy</text>
<line x1="283.7" y1="739.25" x2="309.3" y2="739.25" stroke="#ED7D31" stroke-width="2.5"/>
<circle cx="296" cy="739.25" r="3.55" fill="#ED7D31"/>
<text x="311" y="743.25" font-size="10.5" fill="#404040" text-anchor="start" font-weight="normal" textLength="171.5" lengthAdjust="spacingAndGlyphs">MAD entropy model portfolio entropy</text>
<line x1="632.8" y1="657.5" x2="1177.45" y2="657.5" stroke="#D9D9D9" stroke-width="1"/>
<text x="622.4" y="661.6" font-size="11.5" fill="#595959" text-anchor="end" font-weight="normal">0.0000</text>
<line x1="632.8" y1="628.5" x2="1177.45" y2="628.5" stroke="#D9D9D9" stroke-width="1"/>
<text x="622.4" y="632.33" font-size="11.5" fill="#595959" text-anchor="end" font-weight="normal">0.0050</text>
<line x1="632.8" y1="598.5" x2="1177.45" y2="598.5" stroke="#D9D9D9" stroke-width="1"/>
<text x="622.4" y="603.06" font-size="11.5" fill="#595959" text-anchor="end" font-weight="normal">0.0100</text>
<line x1="632.8" y1="569.5" x2="1177.45" y2="569.5" stroke="#D9D9D9" stroke-width="1"/>
<text x="622.4" y="573.79" font-size="11.5" fill="#595959" text-anchor="end" font-weight="normal">0.0150</text>
<line x1="632.8" y1="540.5" x2="1177.45" y2="540.5" stroke="#D9D9D9" stroke-width="1"/>
<text x="622.4" y="544.51" font-size="11.5" fill="#595959" text-anchor="end" font-weight="normal">0.0200</text>
<line x1="632.8" y1="511.5" x2="1177.45" y2="511.5" stroke="#D9D9D9" stroke-width="1"/>
<text x="622.4" y="515.24" font-size="11.5" fill="#595959" text-anchor="end" font-weight="normal">0.0250</text>
<line x1="632.8" y1="481.5" x2="1177.45" y2="481.5" stroke="#D9D9D9" stroke-width="1"/>
<text x="622.4" y="485.97" font-size="11.5" fill="#595959" text-anchor="end" font-weight="normal">0.0300</text>
<line x1="632.8" y1="452.5" x2="1177.45" y2="452.5" stroke="#D9D9D9" stroke-width="1"/>
<text x="622.4" y="456.7" font-size="11.5" fill="#595959" text-anchor="end" font-weight="normal">0.0350</text>
<text transform="translate(654.45 673.1) scale(1.03 1) rotate(-45)" x="0" y="0" font-size="10.5" fill="#595959" text-anchor="end" textLength="50.49" lengthAdjust="spacingAndGlyphs">Portfolio 1</text>
<text transform="translate(690.76 673.1) scale(1.03 1) rotate(-45)" x="0" y="0" font-size="10.5" fill="#595959" text-anchor="end" textLength="50.49" lengthAdjust="spacingAndGlyphs">Portfolio 2</text>
<text transform="translate(727.07 673.1) scale(1.03 1) rotate(-45)" x="0" y="0" font-size="10.5" fill="#595959" text-anchor="end" textLength="50.49" lengthAdjust="spacingAndGlyphs">Portfolio 3</text>
<text transform="translate(763.38 673.1) scale(1.03 1) rotate(-45)" x="0" y="0" font-size="10.5" fill="#595959" text-anchor="end" textLength="50.49" lengthAdjust="spacingAndGlyphs">Portfolio 4</text>
<text transform="translate(799.69 673.1) scale(1.03 1) rotate(-45)" x="0" y="0" font-size="10.5" fill="#595959" text-anchor="end" textLength="50.49" lengthAdjust="spacingAndGlyphs">Portfolio 5</text>
<text transform="translate(836 673.1) scale(1.03 1) rotate(-45)" x="0" y="0" font-size="10.5" fill="#595959" text-anchor="end" textLength="50.49" lengthAdjust="spacingAndGlyphs">Portfolio 6</text>
<text transform="translate(872.31 673.1) scale(1.03 1) rotate(-45)" x="0" y="0" font-size="10.5" fill="#595959" text-anchor="end" textLength="50.49" lengthAdjust="spacingAndGlyphs">Portfolio 7</text>
<text transform="translate(908.62 673.1) scale(1.03 1) rotate(-45)" x="0" y="0" font-size="10.5" fill="#595959" text-anchor="end" textLength="50.49" lengthAdjust="spacingAndGlyphs">Portfolio 8</text>
<text transform="translate(944.93 673.1) scale(1.03 1) rotate(-45)" x="0" y="0" font-size="10.5" fill="#595959" text-anchor="end" textLength="50.49" lengthAdjust="spacingAndGlyphs">Portfolio 9</text>
<text transform="translate(981.24 673.1) scale(1.03 1) rotate(-45)" x="0" y="0" font-size="10.5" fill="#595959" text-anchor="end" textLength="56.31" lengthAdjust="spacingAndGlyphs">Portfolio 10</text>
<text transform="translate(1017.55 673.1) scale(1.03 1) rotate(-45)" x="0" y="0" font-size="10.5" fill="#595959" text-anchor="end" textLength="56.31" lengthAdjust="spacingAndGlyphs">Portfolio 11</text>
<text transform="translate(1053.86 673.1) scale(1.03 1) rotate(-45)" x="0" y="0" font-size="10.5" fill="#595959" text-anchor="end" textLength="56.31" lengthAdjust="spacingAndGlyphs">Portfolio 12</text>
<text transform="translate(1090.17 673.1) scale(1.03 1) rotate(-45)" x="0" y="0" font-size="10.5" fill="#595959" text-anchor="end" textLength="56.31" lengthAdjust="spacingAndGlyphs">Portfolio 13</text>
<text transform="translate(1126.48 673.1) scale(1.03 1) rotate(-45)" x="0" y="0" font-size="10.5" fill="#595959" text-anchor="end" textLength="56.31" lengthAdjust="spacingAndGlyphs">Portfolio 14</text>
<text transform="translate(1162.79 673.1) scale(1.03 1) rotate(-45)" x="0" y="0" font-size="10.5" fill="#595959" text-anchor="end" textLength="56.31" lengthAdjust="spacingAndGlyphs">Portfolio 15</text>
<polyline points="650.95,612.32 687.26,643.35 723.57,615.83 759.88,610.57 796.19,641.01 832.5,604.71 868.81,612.32 905.12,612.32 941.43,643.94 977.74,642.76 1014.05,642.18 1050.36,641.59 1086.67,637.5 1122.98,625.2 1159.29,643.94" fill="none" stroke="#4472C4" stroke-width="3" stroke-linejoin="round" stroke-linecap="round"/>
<circle cx="650.95" cy="612.32" r="3.8" fill="#4472C4"/>
<circle cx="687.26" cy="643.35" r="3.8" fill="#4472C4"/>
<circle cx="723.57" cy="615.83" r="3.8" fill="#4472C4"/>
<circle cx="759.88" cy="610.57" r="3.8" fill="#4472C4"/>
<circle cx="796.19" cy="641.01" r="3.8" fill="#4472C4"/>
<circle cx="832.5" cy="604.71" r="3.8" fill="#4472C4"/>
<circle cx="868.81" cy="612.32" r="3.8" fill="#4472C4"/>
<circle cx="905.12" cy="612.32" r="3.8" fill="#4472C4"/>
<circle cx="941.43" cy="643.94" r="3.8" fill="#4472C4"/>
<circle cx="977.74" cy="642.76" r="3.8" fill="#4472C4"/>
<circle cx="1014.05" cy="642.18" r="3.8" fill="#4472C4"/>
<circle cx="1050.36" cy="641.59" r="3.8" fill="#4472C4"/>
<circle cx="1086.67" cy="637.5" r="3.8" fill="#4472C4"/>
<circle cx="1122.98" cy="625.2" r="3.8" fill="#4472C4"/>
<circle cx="1159.29" cy="643.94" r="3.8" fill="#4472C4"/>
<polyline points="650.95,605.88 687.26,602.96 723.57,577.78 759.88,559.05 796.19,472.99 832.5,541.49 868.81,596.52 905.12,574.27 941.43,617.01 977.74,557.88 1014.05,517.48 1050.36,558.46 1086.67,567.24 1122.98,600.61 1159.29,552.61" fill="none" stroke="#ED7D31" stroke-width="3" stroke-linejoin="round" stroke-linecap="round"/>
<circle cx="650.95" cy="605.88" r="3.8" fill="#ED7D31"/>
<circle cx="687.26" cy="602.96" r="3.8" fill="#ED7D31"/>
<circle cx="723.57" cy="577.78" r="3.8" fill="#ED7D31"/>
<circle cx="759.88" cy="559.05" r="3.8" fill="#ED7D31"/>
<circle cx="796.19" cy="472.99" r="3.8" fill="#ED7D31"/>
<circle cx="832.5" cy="541.49" r="3.8" fill="#ED7D31"/>
<circle cx="868.81" cy="596.52" r="3.8" fill="#ED7D31"/>
<circle cx="905.12" cy="574.27" r="3.8" fill="#ED7D31"/>
<circle cx="941.43" cy="617.01" r="3.8" fill="#ED7D31"/>
<circle cx="977.74" cy="557.88" r="3.8" fill="#ED7D31"/>
<circle cx="1014.05" cy="517.48" r="3.8" fill="#ED7D31"/>
<circle cx="1050.36" cy="558.46" r="3.8" fill="#ED7D31"/>
<circle cx="1086.67" cy="567.24" r="3.8" fill="#ED7D31"/>
<circle cx="1122.98" cy="600.61" r="3.8" fill="#ED7D31"/>
<circle cx="1159.29" cy="552.61" r="3.8" fill="#ED7D31"/>
<text x="650.95" y="633.32" font-size="10.4" fill="#404040" text-anchor="middle" font-weight="bold" textLength="34.92" lengthAdjust="spacingAndGlyphs">0.0077</text>
<text x="687.26" y="656.25" font-size="10.4" fill="#404040" text-anchor="middle" font-weight="bold" textLength="34.92" lengthAdjust="spacingAndGlyphs">0.0024</text>
<text x="723.57" y="636.83" font-size="10.4" fill="#404040" text-anchor="middle" font-weight="bold" textLength="34.92" lengthAdjust="spacingAndGlyphs">0.0071</text>
<text x="759.88" y="631.57" font-size="10.4" fill="#404040" text-anchor="middle" font-weight="bold" textLength="34.92" lengthAdjust="spacingAndGlyphs">0.0080</text>
<text x="796.19" y="651.51" font-size="10.4" fill="#404040" text-anchor="middle" font-weight="bold" textLength="34.92" lengthAdjust="spacingAndGlyphs">0.0028</text>
<text x="832.5" y="625.71" font-size="10.4" fill="#404040" text-anchor="middle" font-weight="bold" textLength="34.92" lengthAdjust="spacingAndGlyphs">0.0090</text>
<text x="868.81" y="633.32" font-size="10.4" fill="#404040" text-anchor="middle" font-weight="bold" textLength="34.92" lengthAdjust="spacingAndGlyphs">0.0077</text>
<text x="905.12" y="633.32" font-size="10.4" fill="#404040" text-anchor="middle" font-weight="bold" textLength="34.92" lengthAdjust="spacingAndGlyphs">0.0077</text>
<text x="942.13" y="657.04" font-size="10.4" fill="#404040" text-anchor="middle" font-weight="bold" textLength="34.92" lengthAdjust="spacingAndGlyphs">0.0023</text>
<text x="979.94" y="657.06" font-size="10.4" fill="#404040" text-anchor="middle" font-weight="bold" textLength="34.92" lengthAdjust="spacingAndGlyphs">0.0025</text>
<text x="1015.25" y="655.48" font-size="10.4" fill="#404040" text-anchor="middle" font-weight="bold" textLength="34.92" lengthAdjust="spacingAndGlyphs">0.0026</text>
<text x="1051.76" y="654.39" font-size="10.4" fill="#404040" text-anchor="middle" font-weight="bold" textLength="34.92" lengthAdjust="spacingAndGlyphs">0.0027</text>
<text x="1091.17" y="650" font-size="10.4" fill="#404040" text-anchor="middle" font-weight="bold" textLength="34.92" lengthAdjust="spacingAndGlyphs">0.0034</text>
<text x="1122.98" y="646.2" font-size="10.4" fill="#404040" text-anchor="middle" font-weight="bold" textLength="34.92" lengthAdjust="spacingAndGlyphs">0.0055</text>
<text x="1156.19" y="656.44" font-size="10.4" fill="#404040" text-anchor="middle" font-weight="bold" textLength="34.92" lengthAdjust="spacingAndGlyphs">0.0023</text>
<text x="650.95" y="593.58" font-size="10.4" fill="#404040" text-anchor="middle" font-weight="bold" textLength="34.92" lengthAdjust="spacingAndGlyphs">0.0088</text>
<text x="687.26" y="590.66" font-size="10.4" fill="#404040" text-anchor="middle" font-weight="bold" textLength="34.92" lengthAdjust="spacingAndGlyphs">0.0093</text>
<text x="723.57" y="565.48" font-size="10.4" fill="#404040" text-anchor="middle" font-weight="bold" textLength="34.92" lengthAdjust="spacingAndGlyphs">0.0136</text>
<text x="759.88" y="546.75" font-size="10.4" fill="#404040" text-anchor="middle" font-weight="bold" textLength="34.92" lengthAdjust="spacingAndGlyphs">0.0168</text>
<text x="796.19" y="460.69" font-size="10.4" fill="#404040" text-anchor="middle" font-weight="bold" textLength="34.92" lengthAdjust="spacingAndGlyphs">0.0315</text>
<text x="832.5" y="529.19" font-size="10.4" fill="#404040" text-anchor="middle" font-weight="bold" textLength="34.92" lengthAdjust="spacingAndGlyphs">0.0198</text>
<text x="868.81" y="584.22" font-size="10.4" fill="#404040" text-anchor="middle" font-weight="bold" textLength="34.92" lengthAdjust="spacingAndGlyphs">0.0104</text>
<text x="905.12" y="561.97" font-size="10.4" fill="#404040" text-anchor="middle" font-weight="bold" textLength="34.92" lengthAdjust="spacingAndGlyphs">0.0142</text>
<text x="941.43" y="604.71" font-size="10.4" fill="#404040" text-anchor="middle" font-weight="bold" textLength="34.92" lengthAdjust="spacingAndGlyphs">0.0069</text>
<text x="977.74" y="545.58" font-size="10.4" fill="#404040" text-anchor="middle" font-weight="bold" textLength="34.92" lengthAdjust="spacingAndGlyphs">0.0170</text>
<text x="1014.05" y="505.18" font-size="10.4" fill="#404040" text-anchor="middle" font-weight="bold" textLength="34.92" lengthAdjust="spacingAndGlyphs">0.0239</text>
<text x="1050.36" y="546.16" font-size="10.4" fill="#404040" text-anchor="middle" font-weight="bold" textLength="34.92" lengthAdjust="spacingAndGlyphs">0.0169</text>
<text x="1086.67" y="554.94" font-size="10.4" fill="#404040" text-anchor="middle" font-weight="bold" textLength="34.92" lengthAdjust="spacingAndGlyphs">0.0154</text>
<text x="1122.98" y="588.31" font-size="10.4" fill="#404040" text-anchor="middle" font-weight="bold" textLength="34.92" lengthAdjust="spacingAndGlyphs">0.0097</text>
<text x="1159.29" y="540.31" font-size="10.4" fill="#404040" text-anchor="middle" font-weight="bold" textLength="34.92" lengthAdjust="spacingAndGlyphs">0.0179</text>
<text x="885.7" y="430.8" font-size="16" fill="#595959" text-anchor="middle" font-weight="normal" textLength="138" lengthAdjust="spacingAndGlyphs">Performance  ratio</text>
<line x1="667" y1="736.5" x2="694.2" y2="736.5" stroke="#4472C4" stroke-width="3"/>
<circle cx="680.6" cy="736.5" r="3.8" fill="#4472C4"/>
<text x="697.4" y="740.8" font-size="11.5" fill="#595959" text-anchor="start" font-weight="normal" textLength="155.2" lengthAdjust="spacingAndGlyphs">MAD model  Performance ratio</text>
<line x1="882.7" y1="736.5" x2="909.9" y2="736.5" stroke="#ED7D31" stroke-width="3"/>
<circle cx="896.5" cy="736.5" r="3.8" fill="#ED7D31"/>
<text x="913.3" y="740.8" font-size="11.5" fill="#595959" text-anchor="start" font-weight="normal" textLength="194.7" lengthAdjust="spacingAndGlyphs">MAD entropy model Performance ratio</text>
</svg></body></html>
